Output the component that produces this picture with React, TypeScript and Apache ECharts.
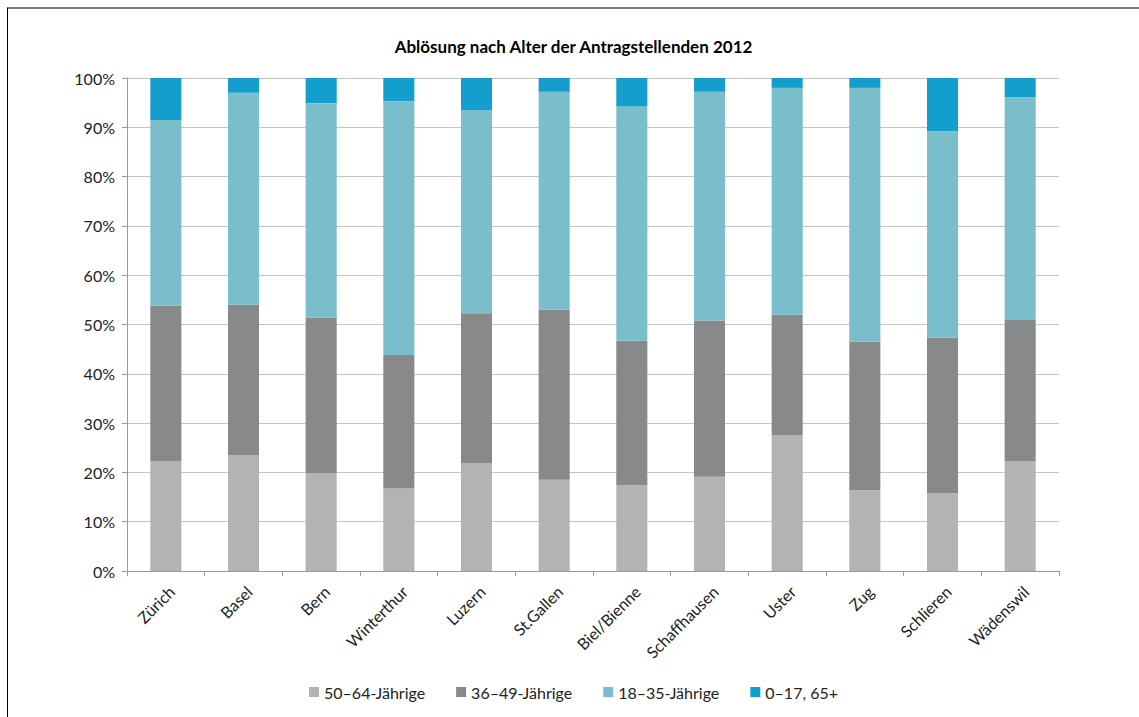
import React, { useEffect, useRef } from "react";
import * as echarts from "echarts";

const categories = ["Zürich", "Basel", "Bern", "Winterthur", "Luzern", "St.Gallen", "Biel/Bienne", "Schaffhausen", "Uster", "Zug", "Schlieren", "Wädenswil"];
const age5064 = [22.3, 23.5, 19.9, 16.8, 21.8, 18.5, 17.4, 19.1, 27.6, 16.4, 15.8, 22.3];
const age3649 = [31.5, 30.5, 31.5, 27.0, 30.5, 34.5, 29.3, 31.7, 24.4, 30.1, 31.5, 28.6];
const age1835 = [37.7, 43.0, 43.5, 51.5, 41.2, 44.2, 47.6, 46.4, 46.0, 51.5, 41.9, 45.2];
const age017 = [8.5, 3.0, 5.1, 4.7, 6.5, 2.8, 5.7, 2.8, 2.0, 2.0, 10.8, 3.9];
const seriesNames = ["50–64-Jährige", "36–49-Jährige", "18–35-Jährige", "0–17, 65+"];
const colors = ["#b2b3b5", "#88898b", "#7bbecb", "#149ecd"];
const title = "Ablösung nach Alter der Antragstellenden 2012";

const FONT = "Lato, 'Open Sans', sans-serif";

export default function App() {
  const ref = useRef<HTMLDivElement>(null);
  useEffect(() => {
    if (!ref.current) return;
    const chart = echarts.init(ref.current, undefined, { renderer: "svg" });
    const data = [age5064, age3649, age1835, age017];
    chart.setOption({
      animation: false,
      textStyle: { fontFamily: FONT },
      title: {
        text: title,
        left: "center",
        top: 24,
        textStyle: { fontSize: 17, fontWeight: "bold", color: "#000", fontFamily: FONT },
      },
      legend: {
        bottom: 12,
        left: "center",
        itemWidth: 10,
        itemHeight: 10,
        itemGap: 31,
        icon: "rect",
        textStyle: { fontSize: 16, color: "#222", fontFamily: FONT },
        data: seriesNames,
      },
      grid: { left: 119, right: 80, top: 69, bottom: 146, containLabel: false },
      xAxis: {
        type: "category",
        data: categories,
        boundaryGap: true,
        axisLine: { lineStyle: { color: "#9a9a9a", width: 1 } },
        axisTick: { show: true, length: 5, lineStyle: { color: "#9a9a9a" } },
        axisLabel: { rotate: 45, fontSize: 16, color: "#222", margin: 12, interval: 0, verticalAlign: "top", fontFamily: FONT },
      },
      yAxis: {
        type: "value",
        min: 0,
        max: 100,
        interval: 10,
        axisLine: { show: true, lineStyle: { color: "#9a9a9a", width: 1 } },
        axisTick: { show: true, length: 5, lineStyle: { color: "#9a9a9a" } },
        axisLabel: { formatter: "{value}%", fontSize: 16, color: "#222", margin: 12, fontFamily: FONT },
        splitLine: { show: true, lineStyle: { color: "#c4c4c4", width: 1 } },
      },
      series: seriesNames.map((name, i) => ({
        name,
        type: "bar",
        stack: "total",
        barWidth: "40%",
        data: data[i],
        itemStyle: { color: colors[i] },
      })),
    });
    return () => chart.dispose();
  }, []);
  return (
    <div
      style={{
        position: "absolute",
        left: 7,
        top: 7,
        borderTop: "2px solid #7a7a7a",
        borderLeft: "1px solid #000",
        width: 1132,
        height: 710,
      }}
    >
      <div ref={ref} style={{ width: 1131, height: 708 }} />
    </div>
  );
}
